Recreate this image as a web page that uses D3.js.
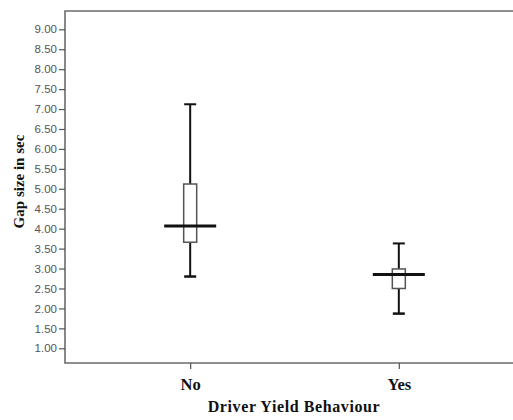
<!DOCTYPE html>
<html><head><meta charset="utf-8">
<script src="https://cdn.jsdelivr.net/npm/d3@7"></script>
<style>body{margin:0;background:#fff;}svg{display:block;}</style>
</head><body>
<script>
const categories = ["No", "Yes"];
const whiskerLow = [2.80, 1.87];
const q1 = [3.66, 2.50];
const median = [4.07, 2.85];
const q3 = [5.12, 2.99];
const whiskerHigh = [7.12, 3.63];
const yTicks = [1, 1.5, 2, 2.5, 3, 3.5, 4, 4.5, 5, 5.5, 6, 6.5, 7, 7.5, 8, 8.5, 9];

const W = 513, H = 420;
const svg = d3.select("body").append("svg").attr("width", W).attr("height", H);

const y = d3.scaleLinear().domain([1, 9]).range([348.3, 29.3]);
const x = d3.scalePoint().domain(categories).range([65, 524]).padding(0.6);
const plotTop = 11, plotBottom = 363, plotLeft = 65;
const serif = "Liberation Serif, 'Times New Roman', serif";

// frame
svg.append("path")
  .attr("d", `M${W+5},${plotTop}H${plotLeft}V${plotBottom}H${W+5}`)
  .attr("fill", "none").attr("stroke", "#6b6b6b").attr("stroke-width", 1.6);

// y axis
const yAxis = d3.axisLeft(y).tickValues(yTicks).tickFormat(d3.format(".2f")).tickSize(6).tickPadding(2);
const gy = svg.append("g").attr("transform", `translate(${plotLeft},0)`).call(yAxis);
gy.select(".domain").remove();
gy.selectAll("line").attr("stroke", "#555").attr("stroke-width", 1.2);
gy.selectAll("text").attr("font-family", "Liberation Sans, Arial, sans-serif").attr("font-size", 11.5).attr("fill", "#555");

// x axis
const xAxis = d3.axisBottom(x).tickSize(6).tickPadding(9);
const gx = svg.append("g").attr("transform", `translate(0,${plotBottom})`).call(xAxis);
gx.select(".domain").remove();
gx.selectAll("line").attr("stroke", "#555").attr("stroke-width", 1.2);
gx.selectAll("text").attr("font-family", serif).attr("font-weight", "bold").attr("font-size", 16.5).attr("fill", "#111");

// boxes
const data = categories.map((c, i) => ({c, lo: whiskerLow[i], q1: q1[i], med: median[i], q3: q3[i], hi: whiskerHigh[i]}));
const g = svg.append("g").selectAll("g").data(data).join("g");
const bw = 13, cw = 12, mw = 52;
g.append("line").attr("x1", d => x(d.c)).attr("x2", d => x(d.c)).attr("y1", d => y(d.hi)).attr("y2", d => y(d.q3)).attr("stroke", "#111").attr("stroke-width", 2);
g.append("line").attr("x1", d => x(d.c)).attr("x2", d => x(d.c)).attr("y1", d => y(d.q1)).attr("y2", d => y(d.lo)).attr("stroke", "#111").attr("stroke-width", 2);
g.append("line").attr("x1", d => x(d.c) - cw/2).attr("x2", d => x(d.c) + cw/2).attr("y1", d => y(d.hi)).attr("y2", d => y(d.hi)).attr("stroke", "#111").attr("stroke-width", 2);
g.append("line").attr("x1", d => x(d.c) - cw/2).attr("x2", d => x(d.c) + cw/2).attr("y1", d => y(d.lo)).attr("y2", d => y(d.lo)).attr("stroke", "#111").attr("stroke-width", 2.5);
g.append("rect").attr("x", d => x(d.c) - bw/2).attr("width", bw).attr("y", d => y(d.q3)).attr("height", d => y(d.q1) - y(d.q3))
  .attr("fill", "#fff").attr("stroke", "#555").attr("stroke-width", 1.5);
g.append("line").attr("x1", d => x(d.c) - mw/2).attr("x2", d => x(d.c) + mw/2).attr("y1", d => y(d.med)).attr("y2", d => y(d.med)).attr("stroke", "#111").attr("stroke-width", 3);

// axis titles
svg.append("text").attr("x", 294).attr("y", 412).attr("text-anchor", "middle")
  .attr("font-family", serif).attr("font-weight", "bold").attr("font-size", 16).attr("letter-spacing", 0.6).attr("fill", "#111")
  .text("Driver Yield Behaviour");
svg.append("text").attr("transform", `translate(24,181.5) rotate(-90)`).attr("text-anchor", "middle")
  .attr("font-family", serif).attr("font-weight", "bold").attr("font-size", 15).attr("fill", "#111")
  .text("Gap size in sec");
</script>
</body></html>
